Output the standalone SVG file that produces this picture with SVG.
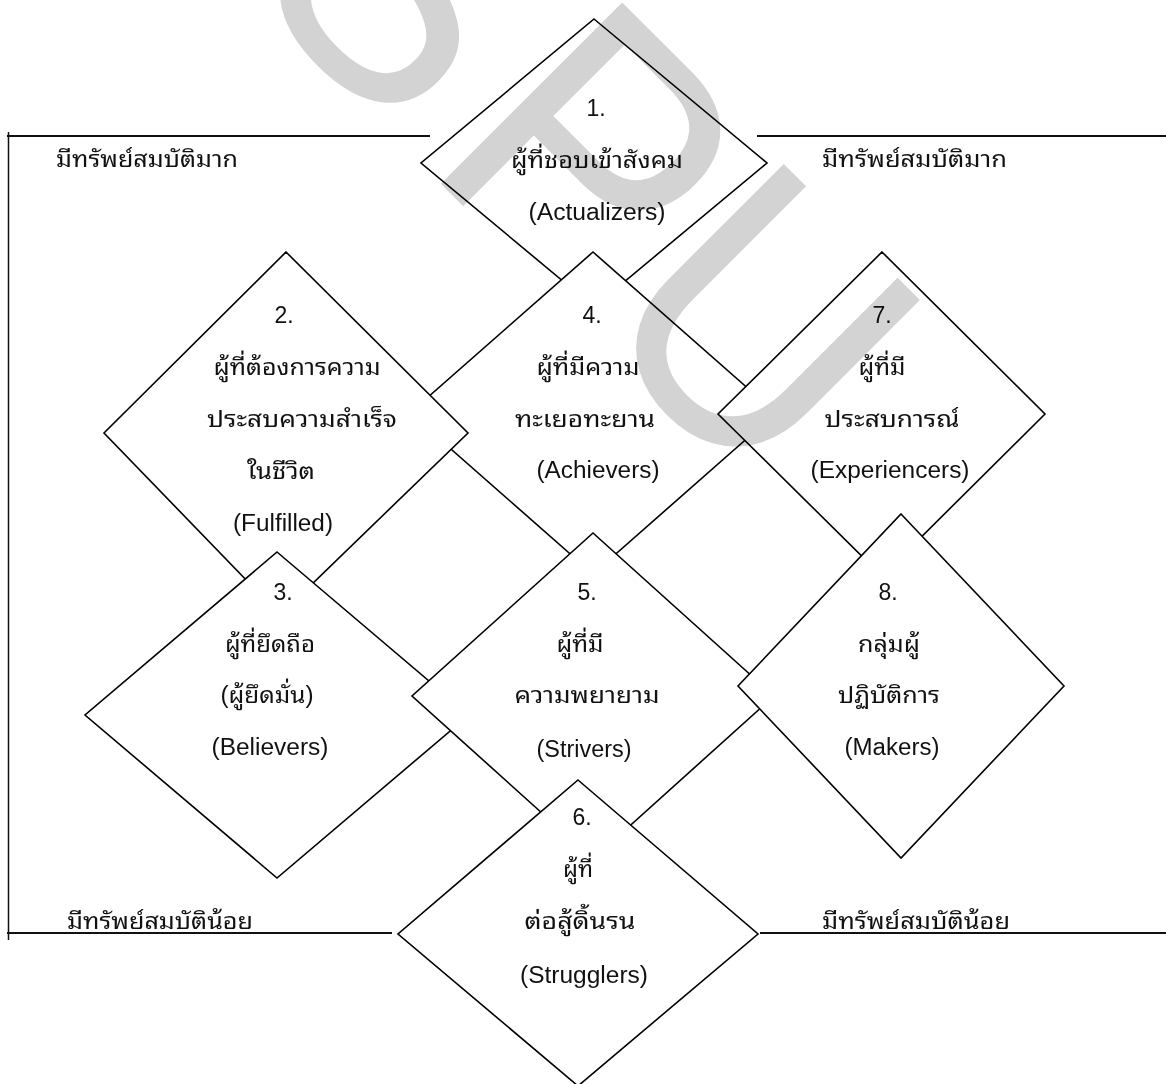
<svg xmlns="http://www.w3.org/2000/svg" width="1166" height="1084" viewBox="0 0 1166 1084">
<style>
.d{fill:#fff;stroke:#000;stroke-width:1.6;stroke-linejoin:miter}
.t{font-family:"Liberation Sans","Noto Sans Thai Looped","Noto Sans Thai","Noto Sans",sans-serif;font-size:23px;fill:#111;text-anchor:middle}
.s{font-family:"Liberation Sans","Noto Sans Thai Looped","Noto Sans Thai","Noto Sans",sans-serif;font-size:23px;fill:#111;text-anchor:start}
.ln{stroke:#111;stroke-width:2;fill:none}
.wm{font-family:"Liberation Sans",sans-serif;font-size:339px;fill:#d3d3d3}
</style>
<rect width="1166" height="1084" fill="#fff"/>
<g id="connectors">
<line class="ln" x1="7" y1="136" x2="430" y2="136"/>
<line class="ln" x1="757" y1="136" x2="1166" y2="136"/>
<line class="ln" x1="8.5" y1="132" x2="8.5" y2="940" style="stroke-width:1.5"/>
<line class="ln" x1="7" y1="933" x2="392" y2="933"/>
<line class="ln" x1="760" y1="933" x2="1166" y2="933"/>
</g>
<g id="labels">
<text class="s" x="56" y="167" textLength="182" lengthAdjust="spacingAndGlyphs">มีทรัพย์สมบัติมาก</text>
<text class="s" x="822" y="167" textLength="185" lengthAdjust="spacingAndGlyphs">มีทรัพย์สมบัติมาก</text>
<text class="s" x="67" y="929" textLength="186" lengthAdjust="spacingAndGlyphs">มีทรัพย์สมบัติน้อย</text>
<text class="s" x="822" y="929" textLength="188" lengthAdjust="spacingAndGlyphs">มีทรัพย์สมบัติน้อย</text>
</g>
<g id="node1">
<polygon class="d" points="594,19 767,163 594,307 421,163"/>
<text class="t" x="596" y="116">1.</text>
<text class="t" x="597" y="168" textLength="172" lengthAdjust="spacingAndGlyphs">ผู้ที่ชอบเข้าสังคม</text>
<text class="t" x="597" y="220" textLength="137" lengthAdjust="spacingAndGlyphs">(Actualizers)</text>
</g>
<g id="node4">
<polygon class="d" points="593,252 776,413 593,574 410,413"/>
<text class="t" x="592" y="323">4.</text>
<text class="t" x="588" y="375" textLength="103" lengthAdjust="spacingAndGlyphs">ผู้ที่มีความ</text>
<text class="t" x="585" y="427" textLength="140" lengthAdjust="spacingAndGlyphs">ทะเยอทะยาน</text>
<text class="t" x="598" y="478" textLength="123" lengthAdjust="spacingAndGlyphs">(Achievers)</text>
</g>
<g id="node2">
<polygon class="d" points="286,252 468,433 280,615 104,433"/>
<text class="t" x="284" y="323">2.</text>
<text class="t" x="297" y="375" textLength="167" lengthAdjust="spacingAndGlyphs">ผู้ที่ต้องการความ</text>
<text class="t" x="302" y="427" textLength="190" lengthAdjust="spacingAndGlyphs">ประสบความสำเร็จ</text>
<text class="t" x="281" y="479" textLength="68" lengthAdjust="spacingAndGlyphs">ในชีวิต</text>
<text class="t" x="283" y="531" textLength="100" lengthAdjust="spacingAndGlyphs">(Fulfilled)</text>
</g>
<g id="node7">
<polygon class="d" points="882,252 1045,414 882,576 718,414"/>
<text class="t" x="882" y="323">7.</text>
<text class="t" x="882" y="375" textLength="47" lengthAdjust="spacingAndGlyphs">ผู้ที่มี</text>
<text class="t" x="892" y="427" textLength="135" lengthAdjust="spacingAndGlyphs">ประสบการณ์</text>
<text class="t" x="890" y="478" textLength="159" lengthAdjust="spacingAndGlyphs">(Experiencers)</text>
</g>
<g id="node3">
<polygon class="d" points="277,552 469,715 277,878 85,715"/>
<text class="t" x="283" y="600">3.</text>
<text class="t" x="270" y="652" textLength="90" lengthAdjust="spacingAndGlyphs">ผู้ที่ยึดถือ</text>
<text class="t" x="267" y="703" textLength="93" lengthAdjust="spacingAndGlyphs">(ผู้ยึดมั่น)</text>
<text class="t" x="270" y="755" textLength="117" lengthAdjust="spacingAndGlyphs">(Believers)</text>
</g>
<g id="node5">
<polygon class="d" points="593,533 774,696 593,859 412,696"/>
<text class="t" x="587" y="600">5.</text>
<text class="t" x="580" y="652" textLength="47" lengthAdjust="spacingAndGlyphs">ผู้ที่มี</text>
<text class="t" x="587" y="703" textLength="145" lengthAdjust="spacingAndGlyphs">ความพยายาม</text>
<text class="t" x="584" y="757" textLength="95" lengthAdjust="spacingAndGlyphs">(Strivers)</text>
</g>
<g id="node8">
<polygon class="d" points="901,514 1064,686 901,858 738,686"/>
<text class="t" x="888" y="600">8.</text>
<text class="t" x="889" y="652" textLength="62" lengthAdjust="spacingAndGlyphs">กลุ่มผู้</text>
<text class="t" x="889" y="703" textLength="102" lengthAdjust="spacingAndGlyphs">ปฏิบัติการ</text>
<text class="t" x="892" y="755" textLength="95" lengthAdjust="spacingAndGlyphs">(Makers)</text>
</g>
<g id="node6">
<polygon class="d" points="578,780 758,934 578,1086 398,934"/>
<text class="t" x="582" y="825">6.</text>
<text class="t" x="578" y="877" textLength="30" lengthAdjust="spacingAndGlyphs">ผู้ที่</text>
<text class="t" x="580" y="929" textLength="111" lengthAdjust="spacingAndGlyphs">ต่อสู้ดิ้นรน</text>
<text class="t" x="584" y="983" textLength="128" lengthAdjust="spacingAndGlyphs">(Strugglers)</text>
</g>
<g id="watermark" style="mix-blend-mode:multiply">
<text class="wm" x="0" y="0" transform="translate(257,0) rotate(45) scale(1,1.1)"><tspan dx="-25">S</tspan><tspan dx="31">P</tspan><tspan dx="4">U</tspan></text>
</g>
</svg>
